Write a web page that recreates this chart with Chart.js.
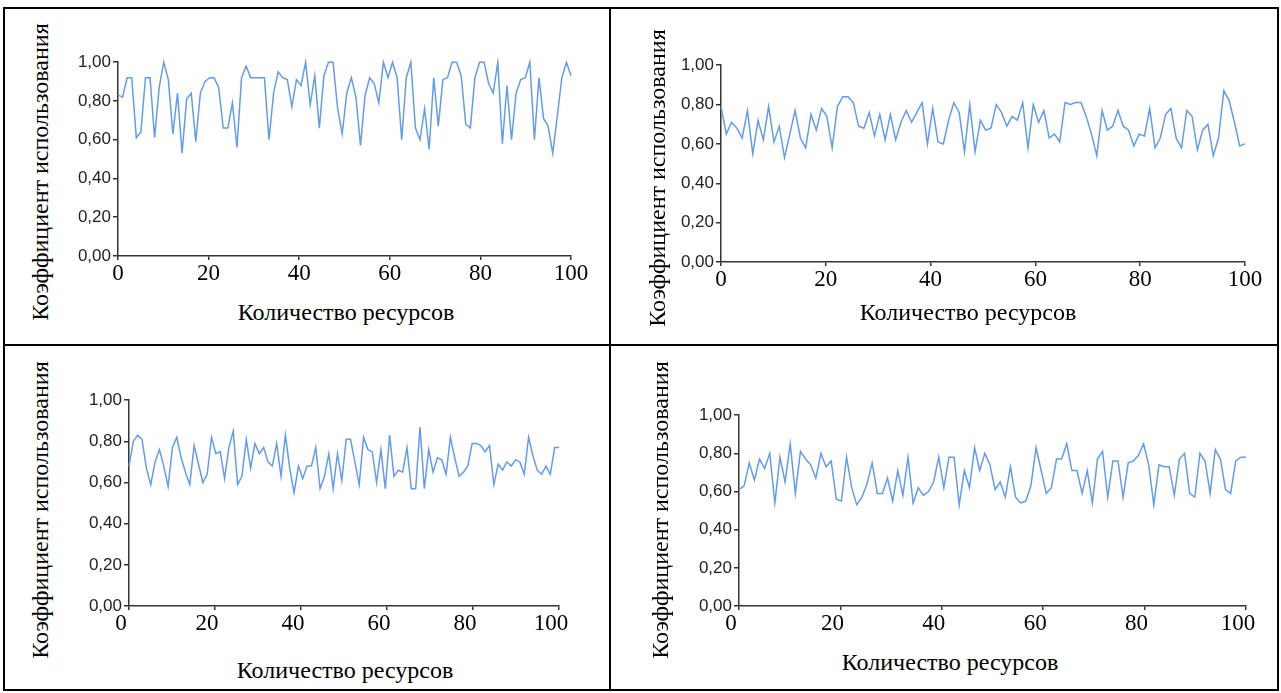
<!DOCTYPE html>
<html>
<head>
<meta charset="utf-8">
<script src="https://cdn.jsdelivr.net/npm/chart.js@4"></script>
<style>
body{margin:0;background:#fff;width:1281px;height:693px;position:relative;overflow:hidden;}
.rule{position:absolute;background:#000;}
canvas{position:absolute;}
.xt,.yt{position:absolute;font-family:"Liberation Serif","Times New Roman",serif;font-size:24px;line-height:24px;white-space:nowrap;color:#000;}
.xt{transform:translate(-50%,-50%);}
.yt{transform:translate(-50%,-50%) rotate(-90deg);}
</style>
</head>
<body>

<div class="rule" style="left:3px;top:7px;width:1276px;height:2px"></div>
<div class="rule" style="left:3px;top:689px;width:1276px;height:2px"></div>
<div class="rule" style="left:3px;top:7px;width:2px;height:684px"></div>
<div class="rule" style="left:1277px;top:7px;width:2px;height:684px"></div>
<div class="rule" style="left:609px;top:7px;width:2px;height:684px"></div>
<div class="rule" style="left:3px;top:344px;width:1276px;height:2px"></div>

<script>
// utilisation ratio per resource
const util1 = [0.83,0.82,0.92,0.92,0.61,0.64,0.92,0.92,0.61,0.87,
1.00,0.91,0.63,0.84,0.53,0.81,0.84,0.59,0.84,0.90,
0.92,0.92,0.87,0.66,0.66,0.79,0.56,0.92,0.98,0.92,
0.92,0.92,0.92,0.60,0.84,0.95,0.92,0.91,0.77,0.91,
0.88,1.00,0.78,0.93,0.66,0.93,1.00,1.00,0.76,0.63,
0.84,0.92,0.82,0.57,0.83,0.92,0.89,0.79,1.00,0.92,
1.00,0.92,0.60,0.92,1.00,0.66,0.60,0.76,0.55,0.92,
0.67,0.91,0.92,1.00,1.00,0.93,0.68,0.66,0.92,1.00,
1.00,0.89,0.84,1.00,0.58,0.88,0.60,0.84,0.91,0.92,
1.00,0.60,0.92,0.71,0.67,0.53,0.72,0.92,1.00,0.93];

const util2 = [0.79,0.65,0.71,0.68,0.63,0.77,0.55,0.72,0.62,0.79,
0.61,0.69,0.53,0.65,0.77,0.63,0.58,0.75,0.67,0.78,
0.74,0.58,0.79,0.84,0.84,0.81,0.69,0.68,0.76,0.64,
0.75,0.62,0.75,0.62,0.71,0.77,0.71,0.76,0.81,0.60,
0.78,0.61,0.60,0.72,0.81,0.76,0.56,0.80,0.56,0.72,
0.67,0.68,0.80,0.76,0.69,0.74,0.72,0.81,0.58,0.80,
0.71,0.77,0.63,0.65,0.61,0.81,0.80,0.81,0.81,0.74,
0.65,0.54,0.77,0.67,0.69,0.77,0.69,0.67,0.59,0.65,
0.64,0.78,0.58,0.63,0.75,0.78,0.63,0.58,0.77,0.74,
0.57,0.67,0.70,0.54,0.63,0.87,0.82,0.71,0.59,0.60];

const util3 = [0.68,0.80,0.83,0.81,0.67,0.59,0.70,0.76,0.68,0.58,
0.77,0.82,0.72,0.65,0.59,0.78,0.69,0.60,0.64,0.82,
0.74,0.75,0.62,0.77,0.85,0.59,0.63,0.81,0.67,0.79,
0.74,0.77,0.70,0.68,0.79,0.63,0.83,0.67,0.55,0.68,
0.62,0.68,0.68,0.77,0.57,0.63,0.74,0.57,0.74,0.61,
0.81,0.81,0.70,0.59,0.82,0.76,0.75,0.60,0.76,0.57,
0.83,0.63,0.66,0.65,0.77,0.57,0.57,0.87,0.57,0.76,
0.65,0.72,0.71,0.64,0.82,0.72,0.63,0.65,0.68,0.79,
0.79,0.78,0.75,0.78,0.59,0.69,0.66,0.70,0.68,0.71,
0.70,0.64,0.82,0.73,0.66,0.64,0.68,0.64,0.77,0.77];

const util4 = [0.61,0.63,0.75,0.66,0.77,0.72,0.80,0.54,0.78,0.65,
0.85,0.59,0.81,0.77,0.74,0.67,0.80,0.73,0.76,0.56,
0.55,0.78,0.62,0.53,0.57,0.64,0.75,0.59,0.59,0.67,
0.55,0.71,0.58,0.78,0.54,0.62,0.58,0.60,0.65,0.78,
0.62,0.78,0.78,0.53,0.71,0.62,0.83,0.71,0.80,0.74,
0.61,0.65,0.57,0.73,0.57,0.54,0.55,0.63,0.83,0.71,
0.59,0.62,0.77,0.77,0.85,0.71,0.71,0.59,0.71,0.54,
0.77,0.81,0.57,0.76,0.76,0.57,0.75,0.76,0.79,0.85,
0.74,0.53,0.74,0.73,0.73,0.58,0.77,0.80,0.59,0.57,
0.80,0.76,0.59,0.82,0.77,0.61,0.59,0.76,0.78,0.78];

const xTickValues = [0, 20, 40, 60, 80, 100];
const yTickValues = [0, 0.2, 0.4, 0.6, 0.8, 1.0];
const yTickLabels = ["0,00", "0,20", "0,40", "0,60", "0,80", "1,00"];
const xTitle = "Количество ресурсов";
const yTitle = "Коэффициент использования";

// plot area [left, right, top, bottom] in page pixels, title centres
const panels = [
  {values: util1, area: [118, 571, 62, 256], shift: 0,  xt: [346, 312], yt: [40, 172]},
  {values: util2, area: [721, 1245, 65, 262], shift: 0, xt: [968, 312], yt: [657, 178]},
  {values: util3, area: [129, 559, 400, 606], shift: -8, xt: [345, 670], yt: [40, 510]},
  {values: util4, area: [739, 1246, 415, 606], shift: -8, xt: [950, 662], yt: [660, 510]}
];

const axisColor = "#333";

function addText(cls, pos, text){
  const d = document.createElement("div");
  d.className = cls;
  d.style.left = pos[0] + "px";
  d.style.top = pos[1] + "px";
  d.textContent = text;
  document.body.appendChild(d);
}

panels.forEach(p => {

const [L, R, T, B] = p.area;
const cv = document.createElement("canvas");
cv.width = R - L + 85;
cv.height = B - T + 52;
cv.style.left = (L - 60) + "px";
cv.style.top = (T - 12) + "px";
document.body.appendChild(cv);

new Chart(cv, {
  type: "line",
  data: {
    labels: p.values.map((v, i) => i),
    datasets: [{
      data: p.values,
      borderColor: "rgb(98,156,240)",
      borderWidth: 1.5,
      pointRadius: 0,
      tension: 0,
      clip: 4,
      xAxisID: "x",
      yAxisID: "y"
    }]
  },
  options: {
    responsive: false,
    animation: false,
    layout: {padding: {top: 12, right: 25, left: 0, bottom: 0}},
    plugins: {legend: {display: false}, tooltip: {enabled: false}},
    scales: {
      x: {type: "category", display: false},
      xr: {
        type: "linear",
        position: "bottom",
        min: 0, max: 100,
        afterBuildTicks: s => { s.ticks = xTickValues.map(v => ({value: v})); },
        afterFit: s => { s.height = 40; },
        grid: {drawOnChartArea: false, drawTicks: true, tickLength: 4, color: axisColor, lineWidth: 1.5},
        border: {display: true, color: axisColor, width: 1.5},
        ticks: {
          color: "#000",
          padding: 0,
          labelOffset: p.shift,
          maxRotation: 0,
          font: {family: "'Liberation Serif', 'Times New Roman', serif", size: 23}
        }
      },
      y: {
        type: "linear",
        min: 0, max: 1,
        afterBuildTicks: s => { s.ticks = yTickValues.map(v => ({value: v})); },
        afterFit: s => { s.width = 60; },
        grid: {drawOnChartArea: false, drawTicks: true, tickLength: 5, color: axisColor, lineWidth: 1.5},
        border: {display: true, color: axisColor, width: 1.5},
        ticks: {
          color: "#222",
          padding: 2,
          callback: (v, i) => yTickLabels[i],
          font: {family: "'Liberation Sans', Arial, sans-serif", size: 17}
        }
      }
    }
  }
});

addText("xt", p.xt, xTitle);
addText("yt", p.yt, yTitle);

});
</script>
</body>
</html>
